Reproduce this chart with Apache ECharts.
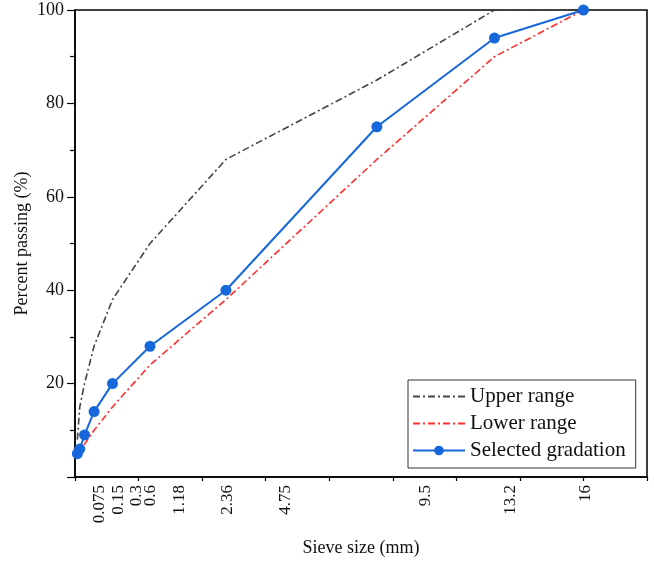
<!DOCTYPE html>
<html>
<head>
<meta charset="utf-8">
<script src="https://cdn.jsdelivr.net/npm/echarts@6/dist/echarts.min.js"></script>
<style>html,body{margin:0;padding:0;background:#fff;}#c{width:654px;height:562px;}</style>
</head>
<body>
<div id="c"></div>
<script>
// Sieve sizes (mm)
var sieveSizes = [0.075, 0.15, 0.3, 0.6, 1.18, 2.36, 4.75, 9.5, 13.2, 16];
// Percent passing
var upperRange = [8, 15, 20, 28, 38, 50, 68, 85, 100, 100];
var lowerRange = [4, 5, 7, 10, 15, 24, 38, 68, 90, 100];
var selectedGradation = [5, 6, 9, 14, 20, 28, 40, 75, 94, 100];
// X tick label texts and the axis values where the reference prints them
var xTickLabels = ['0.075', '0.15', '0.3', '0.6', '1.18', '2.36', '4.75', '9.5', '13.2', '16'];
var xTickLabelPos = [0.77, 1.36, 1.94, 2.39, 3.30, 4.79, 6.61, 11.04, 13.72, 16.05];

function pairs(xs, ys) { return xs.map(function (x, i) { return [x, ys[i]]; }); }

var font = 'Liberation Serif';
var chart = echarts.init(document.getElementById('c'), null, {renderer: 'canvas'});
chart.setOption({
  animation: false,
  backgroundColor: '#fff',
  grid: {left: 75, right: 7, top: 10, bottom: 83, show: true, borderColor: '#000', borderWidth: 1.5, containLabel: false},
  legend: {
    orient: 'vertical', left: 408, top: 380,
    borderColor: '#333', borderWidth: 1, padding: [6, 10, 7, 4],
    itemWidth: 52, itemHeight: 12, itemGap: 6,
    textStyle: {fontFamily: font, fontSize: 21, color: '#111'},
    data: [
      {name: 'Upper range', itemStyle: {opacity: 0}},
      {name: 'Lower range', itemStyle: {opacity: 0}},
      {name: 'Selected gradation'}
    ]
  },
  xAxis: {
    type: 'value', min: 0, max: 18, interval: 2,
    name: 'Sieve size (mm)', nameLocation: 'middle', nameGap: 62,
    nameTextStyle: {fontFamily: font, fontSize: 18, color: '#111'},
    axisLine: {lineStyle: {color: '#000', width: 1.5}},
    axisTick: {show: true, inside: false, length: 4, lineStyle: {color: '#000', width: 1.2}},
    axisLabel: {
      customValues: xTickLabelPos, rotate: 90, margin: 8,
      fontFamily: font, fontSize: 17, color: '#111',
      formatter: function (v) {
        var best = 0, d = Infinity;
        for (var i = 0; i < xTickLabelPos.length; i++) {
          var dd = Math.abs(xTickLabelPos[i] - v);
          if (dd < d) { d = dd; best = i; }
        }
        return xTickLabels[best];
      }
    },
    splitLine: {show: false}
  },
  yAxis: {
    type: 'value', min: 0, max: 100, interval: 20,
    name: 'Percent passing (%)', nameLocation: 'middle', nameGap: 44, nameMoveOverlap: false,
    nameTextStyle: {fontFamily: font, fontSize: 18, color: '#111'},
    axisLine: {show: true, lineStyle: {color: '#000', width: 1.5}},
    axisTick: {show: true, inside: false, length: 8, lineStyle: {color: '#000', width: 1.2}},
    minorTick: {show: true, splitNumber: 2, length: 5, lineStyle: {color: '#000', width: 1.2}},
    axisLabel: {
      margin: 11, fontFamily: font, fontSize: 18, color: '#111',
      formatter: function (v) { return v === 0 ? '' : String(v); }
    },
    splitLine: {show: false}
  },
  series: [
    {
      name: 'Upper range', type: 'line', data: pairs(sieveSizes, upperRange),
      symbol: 'none', color: '#444',
      lineStyle: {color: '#444', width: 1.6, type: [7, 3, 2, 3]}
    },
    {
      name: 'Lower range', type: 'line', data: pairs(sieveSizes, lowerRange),
      symbol: 'none', color: '#ff2d2d',
      lineStyle: {color: '#ff2d2d', width: 1.6, type: [7, 3, 2, 3]}
    },
    {
      name: 'Selected gradation', type: 'line', data: pairs(sieveSizes, selectedGradation),
      symbol: 'circle', symbolSize: 11, color: '#1767dc',
      itemStyle: {color: '#1767dc'},
      lineStyle: {color: '#1767dc', width: 2}
    }
  ]
});
</script>
</body>
</html>
